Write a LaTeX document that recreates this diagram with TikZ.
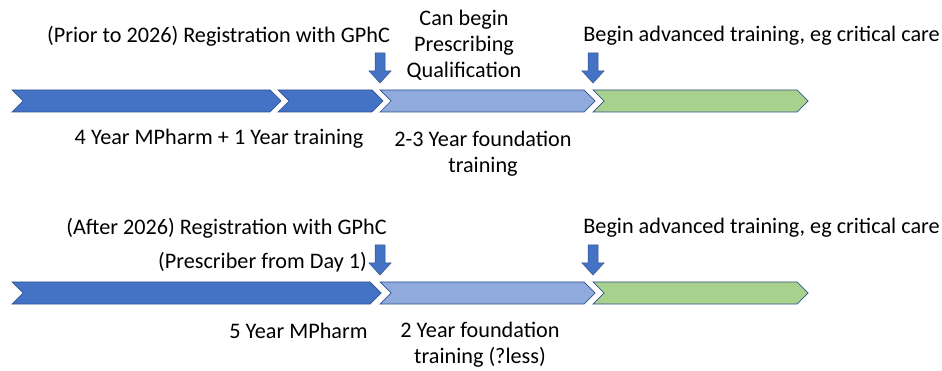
\documentclass[tikz,border=0pt]{standalone}
\usepackage{fontspec}
\setmainfont{Carlito}
\definecolor{darkblue}{HTML}{4472C4}
\definecolor{paleblue}{HTML}{8FAADC}
\definecolor{palegreen}{HTML}{A9D18E}
\definecolor{edgeblue}{HTML}{2F528F}
\tikzset{
  phase/.style={draw=edgeblue, line width=0.7pt, line join=miter},
  marker/.style={draw=edgeblue, fill=darkblue, line width=0.5pt},
  txt/.style={inner sep=0pt, align=center, font=\fontsize{22.2}{26}\selectfont},
}
\begin{document}
\begin{tikzpicture}[x=1pt, y=-1pt]
	\useasboundingbox (0,0) rectangle (942,371);

	% Before 2026
	\draw[phase, fill=darkblue] (12,90) -- (270,90) -- (281,101) -- (270,112) -- (12,112) -- (23,101) -- cycle;
	\draw[phase, fill=darkblue] (278,90) -- (372,90) -- (383,101) -- (372,112) -- (278,112) -- (289,101) -- cycle;
	\draw[phase, fill=paleblue] (380,90) -- (584,90) -- (595,101) -- (584,112) -- (380,112) -- (391,101) -- cycle;
	\draw[phase, fill=palegreen] (593,90) -- (797,90) -- (808,101) -- (797,112) -- (593,112) -- (604,101) -- cycle;
	\draw[marker] (375,53) -- (385,53) -- (385,71) -- (391,71) -- (380,83) -- (369,71) -- (375,71) -- cycle;
	\draw[marker] (588,53) -- (598,53) -- (598,71) -- (604,71) -- (593,83) -- (582,71) -- (588,71) -- cycle;

	\node[txt] (reg1) at (218.5,36) {(Prior to 2026) Registration with GPhC};
	\node[txt] (presc) at (464,45) {Can begin\\Prescribing\\Qualification};
	\node[txt] (adv1) at (761.5,36) {Begin advanced training, eg critical care};
	\node[txt] (mph1) at (219,139) {4 Year MPharm + 1 Year training};
	\node[txt] (fnd1) at (483,154) {2-3 Year foundation\\training};

	% After 2026
	\draw[phase, fill=darkblue] (12,282) -- (370,282) -- (381,293) -- (370,304) -- (12,304) -- (23,293) -- cycle;
	\draw[phase, fill=paleblue] (380,282) -- (584,282) -- (595,293) -- (584,304) -- (380,304) -- (391,293) -- cycle;
	\draw[phase, fill=palegreen] (593,282) -- (797,282) -- (808,293) -- (797,304) -- (593,304) -- (604,293) -- cycle;
	\draw[marker] (375,245) -- (385,245) -- (385,263) -- (391,263) -- (380,275) -- (369,263) -- (375,263) -- cycle;
	\draw[marker] (588,245) -- (598,245) -- (598,263) -- (604,263) -- (593,275) -- (582,263) -- (588,263) -- cycle;

	\node[txt] (reg2) at (226.5,228) {(After 2026) Registration with GPhC};
	\node[txt] (day1) at (262.5,262) {(Prescriber from Day 1)};
	\node[txt] (adv2) at (761.5,228) {Begin advanced training, eg critical care};
	\node[txt] (mph2) at (298.5,331) {5 Year MPharm};
	\node[txt] (fnd2) at (480,345) {2 Year foundation\\training (?less)};
\end{tikzpicture}
\end{document}
